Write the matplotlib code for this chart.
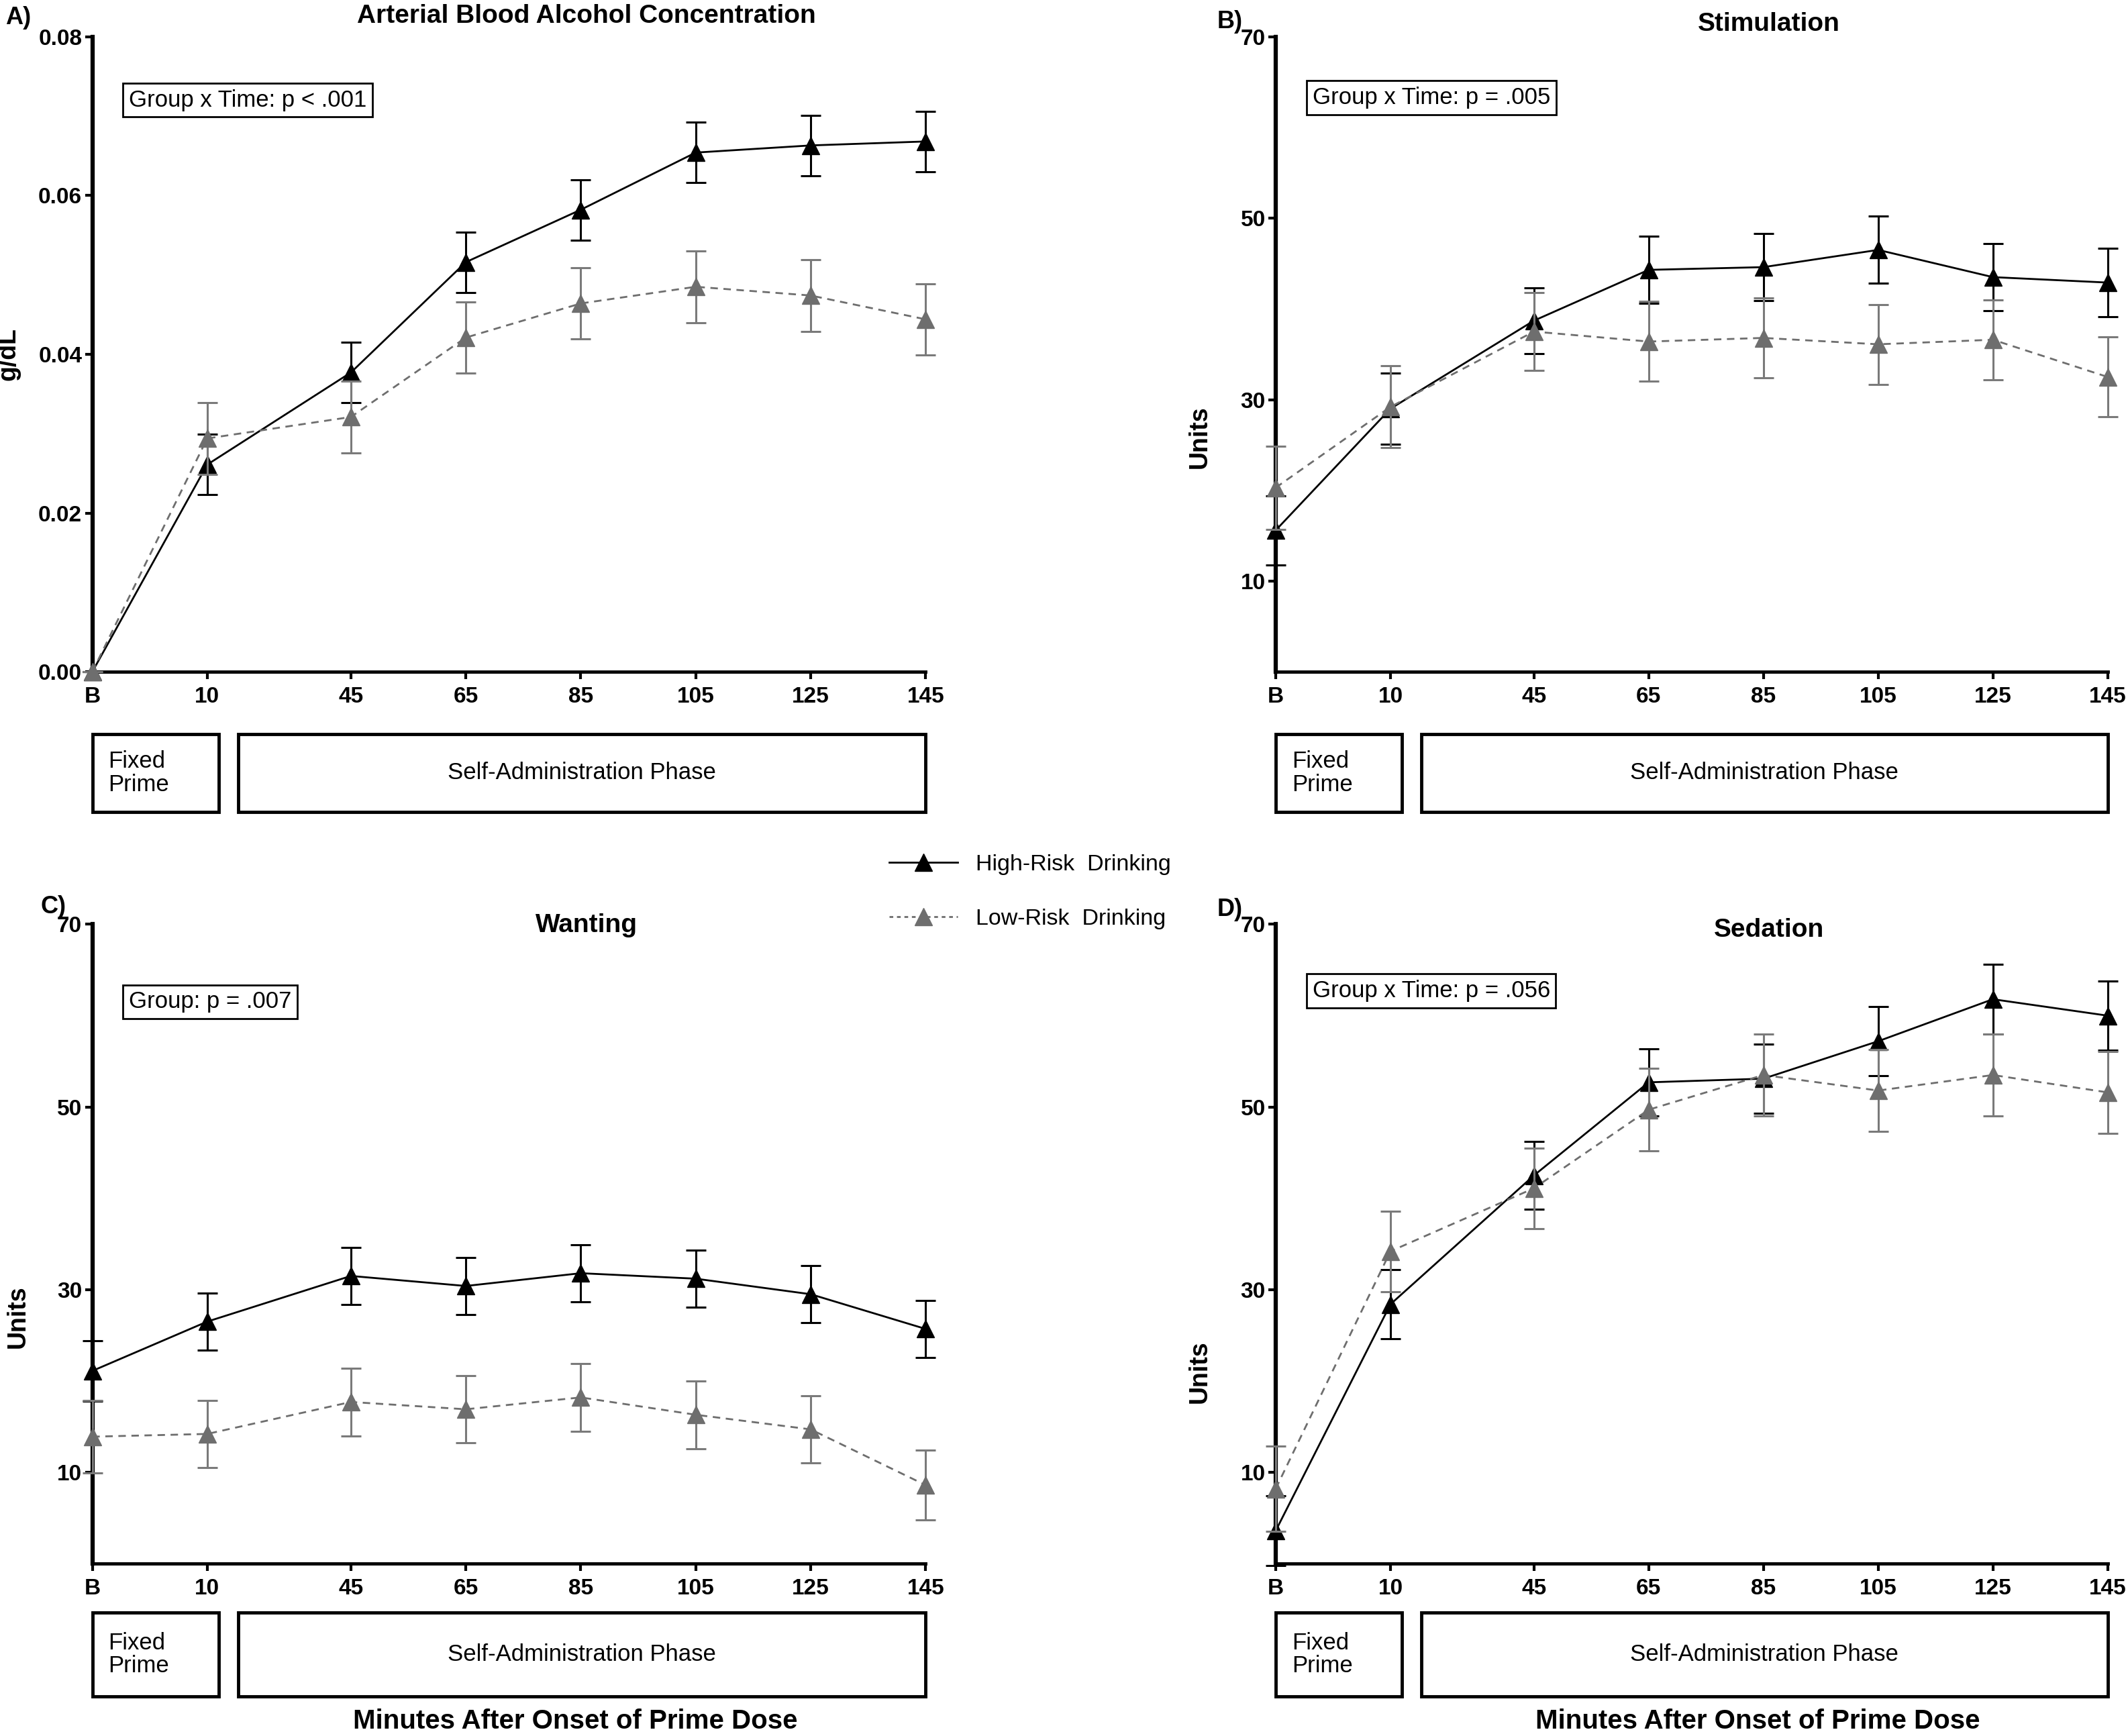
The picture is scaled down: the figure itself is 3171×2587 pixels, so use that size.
import numpy as np
import matplotlib
matplotlib.use('Agg')
import matplotlib.pyplot as plt
import matplotlib.transforms as mtransforms
from matplotlib.patches import Rectangle
from matplotlib.lines import Line2D

plt.rcParams['font.family'] = ['Liberation Sans', 'DejaVu Sans']

# time points (B = baseline) and their spacing on the x axis
time_labels = ['B', '10', '45', '65', '85', '105', '125', '145']
time_pos = [0, 1, 2.25, 3.25, 4.25, 5.25, 6.25, 7.25]

# A) arterial BAC (g/dL)
bac_high = [0.0, 0.0261, 0.0377, 0.0516, 0.0582, 0.0654, 0.0663, 0.0668]
bac_high_sem = [0.0, 0.0038, 0.0038, 0.0038, 0.0038, 0.0038, 0.0038, 0.0038]
bac_low = [0.0, 0.0294, 0.0321, 0.0421, 0.0464, 0.0485, 0.0474, 0.0444]
bac_low_sem = [0.0, 0.0045, 0.0045, 0.0045, 0.0045, 0.0045, 0.0045, 0.0045]

# B) stimulation
stim_high = [15.6, 29.0, 38.7, 44.3, 44.6, 46.5, 43.5, 42.9]
stim_high_sem = [3.8, 3.9, 3.6, 3.7, 3.7, 3.7, 3.7, 3.8]
stim_low = [20.3, 29.2, 37.5, 36.4, 36.8, 36.1, 36.6, 32.5]
stim_low_sem = [4.6, 4.5, 4.3, 4.4, 4.4, 4.4, 4.4, 4.4]

# C) wanting
want_high = [21.1, 26.5, 31.5, 30.4, 31.8, 31.2, 29.5, 25.7]
want_high_sem = [3.3, 3.1, 3.1, 3.1, 3.1, 3.1, 3.1, 3.1]
want_low = [13.9, 14.2, 17.7, 16.9, 18.2, 16.3, 14.7, 8.6]
want_low_sem = [4.0, 3.7, 3.7, 3.7, 3.7, 3.7, 3.7, 3.8]

# D) sedation
sed_high = [3.6, 28.4, 42.5, 52.7, 53.1, 57.2, 61.8, 60.0]
sed_high_sem = [3.8, 3.8, 3.7, 3.7, 3.8, 3.8, 3.8, 3.8]
sed_low = [8.2, 34.2, 41.1, 49.7, 53.5, 51.8, 53.5, 51.6]
sed_low_sem = [4.7, 4.4, 4.4, 4.5, 4.5, 4.5, 4.5, 4.5]

panels = [
    ('A)', 'Arterial Blood Alcohol Concentration', 'g/dL', 'Group x Time: p < .001',
     bac_high, bac_high_sem, bac_low, bac_low_sem),
    ('B)', 'Stimulation', 'Units', 'Group x Time: p = .005',
     stim_high, stim_high_sem, stim_low, stim_low_sem),
    ('C)', 'Wanting', 'Units', 'Group: p = .007',
     want_high, want_high_sem, want_low, want_low_sem),
    ('D)', 'Sedation', 'Units', 'Group x Time: p = .056',
     sed_high, sed_high_sem, sed_low, sed_low_sem),
]

W, H = 1568.0, 1279.0   # layout measured on the shrunk reference
fig = plt.figure(figsize=(31.71, 25.87), dpi=100)

ax_rects = [
    (68, 27, 682, 495), (940, 27, 1553, 495),
    (68, 681, 682, 1152), (940, 681, 1553, 1152),
]
box_rows = [(541, 598), (541, 598), (1188, 1250), (1188, 1250)]
title_y = [12, 18, 682, 685]
label_xy = [(4, 13), (897, 16), (30, 668), (897, 670)]
ylabel_xy = [(-0.086, 0.5), (-0.077, 0.37), (-0.075, 0.386), (-0.077, 0.30)]
note_y = [0.90, 0.904, 0.879, 0.896]

grey = '#6e6e6e'

for i, (tag, title, ylab, note, hi, hi_e, lo, lo_e) in enumerate(panels):
    l, t, r, b = ax_rects[i]
    ax = fig.add_axes([l / W, 1 - b / H, (r - l) / W, (b - t) / H])

    ax.errorbar(time_pos, hi, yerr=hi_e, color='black', lw=2, marker='^', ms=19,
                ecolor='black', elinewidth=2.2, capsize=11, capthick=2.2, zorder=3,
                clip_on=False)
    ax.errorbar(time_pos, lo, yerr=lo_e, color=grey, lw=2, ls=(0, (4, 3)), marker='^',
                ms=19, ecolor='#7a7a7a', elinewidth=2.2, capsize=11, capthick=2.2,
                zorder=4, clip_on=False)

    ax.set_xlim(0, 7.25)
    ax.set_xticks(time_pos)
    ax.set_xticklabels(time_labels)
    if i == 0:
        ax.set_ylim(0, 0.08)
        ax.set_yticks([0, 0.02, 0.04, 0.06, 0.08])
        ax.set_yticklabels(['0.00', '0.02', '0.04', '0.06', '0.08'])
    else:
        ax.set_ylim(0, 70)
        ax.set_yticks([10, 30, 50, 70])

    for s in ['top', 'right']:
        ax.spines[s].set_visible(False)
    ax.spines['left'].set_linewidth(4.5)
    ax.spines['bottom'].set_linewidth(3.5)
    ax.tick_params(axis='both', direction='out', length=8, width=3, labelsize=24)
    ax.tick_params(axis='y', pad=3)
    ax.tick_params(axis='x', pad=8)
    for lab in ax.get_xticklabels() + ax.get_yticklabels():
        lab.set_fontweight('bold')

    ax.set_ylabel(ylab, fontsize=27, fontweight='bold')
    ax.yaxis.set_label_coords(*ylabel_xy[i])

    ax.text(0.044, note_y[i], note, transform=ax.transAxes, fontsize=25, va='center',
            ha='left', bbox=dict(boxstyle='square,pad=0.25', fc='white', ec='black', lw=2))

    # phase boxes under the x axis
    tr = mtransforms.blended_transform_factory(ax.transData, fig.transFigure)
    y0 = 1 - box_rows[i][1] / H
    y1 = 1 - box_rows[i][0] / H
    ax.add_patch(Rectangle((0, y0), 1.1, y1 - y0, transform=tr, fill=False,
                           lw=3.5, ec='black', clip_on=False))
    ax.add_patch(Rectangle((1.27, y0), 7.25 - 1.27, y1 - y0, transform=tr, fill=False,
                           lw=3.5, ec='black', clip_on=False))
    fig.text(0.14, (y0 + y1) / 2, 'Fixed\nPrime', transform=tr, fontsize=25,
             ha='left', va='center', linespacing=1.05)
    fig.text((1.27 + 7.25) / 2, (y0 + y1) / 2, 'Self-Administration Phase',
             transform=tr, fontsize=25, ha='center', va='center')

    fig.text(4.3, 1 - title_y[i] / H, title, transform=tr, fontsize=28,
             fontweight='bold', ha='center', va='center')
    fig.text(label_xy[i][0] / W, 1 - label_xy[i][1] / H, tag, fontsize=26,
             fontweight='bold', ha='left', va='center')

    if i >= 2:
        fig.text(4.2, 1 - 1268 / H, 'Minutes After Onset of Prime Dose', transform=tr,
                 fontsize=29, fontweight='bold', ha='center', va='center')

handles = [
    Line2D([], [], color='black', lw=2, marker='^', ms=19),
    Line2D([], [], color=grey, lw=2, ls=(0, (2, 2)), marker='^', ms=19),
]
fig.legend(handles, ['High-Risk  Drinking', 'Low-Risk  Drinking'], loc='center left',
           bbox_to_anchor=(640 / W, 1 - 657 / H), frameon=False, fontsize=24.5,
           handlelength=3.0, labelspacing=1.45, handletextpad=0.8)

fig.savefig('out.png', dpi=100)
